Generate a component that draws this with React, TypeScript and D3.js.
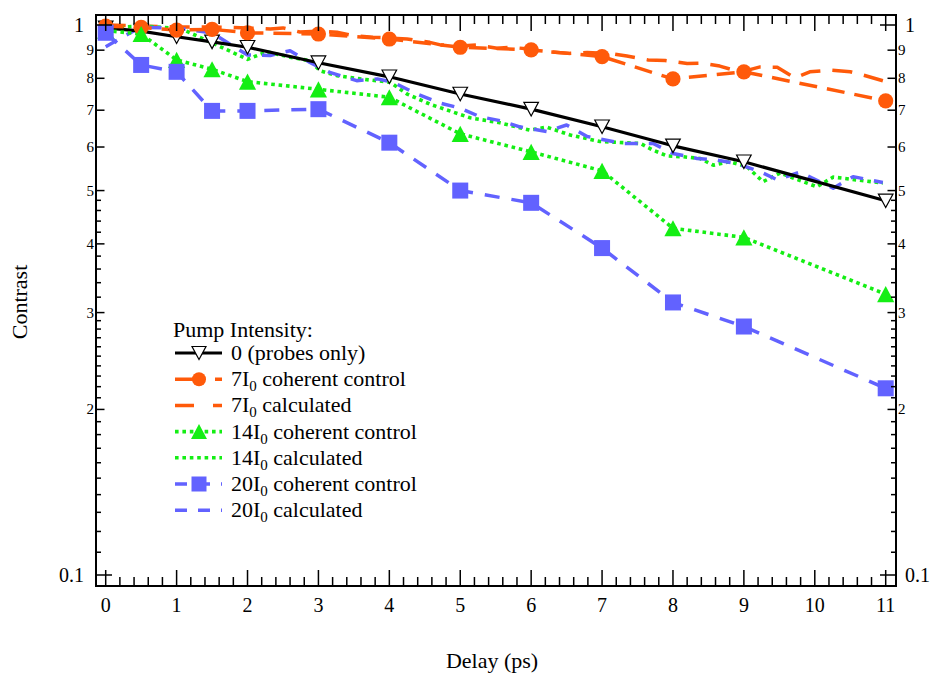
import React from "react";
import * as d3 from "d3";

const delays = [0, 0.5, 1, 1.5, 2, 3, 4, 5, 6, 7, 8, 9, 11];
const probesOnly = [0.988, 0.975, 0.952, 0.932, 0.911, 0.854, 0.805, 0.749, 0.703, 0.653, 0.603, 0.564, 0.479];
const control7 = [0.995, 0.99, 0.979, 0.982, 0.968, 0.963, 0.943, 0.911, 0.901, 0.876, 0.798, 0.822, 0.728];
const control14 = [0.977, 0.963, 0.864, 0.831, 0.789, 0.764, 0.739, 0.634, 0.588, 0.543, 0.427, 0.411, 0.324];
const control20 = [0.968, 0.846, 0.822, 0.698, 0.698, 0.703, 0.611, 0.5, 0.475, 0.393, 0.313, 0.283, 0.2185];

const calc7X = [0, 0.48, 0.99, 1.5, 2.0, 2.32, 2.5, 2.74, 3.02, 3.26, 3.49, 3.77, 4.01, 4.25, 4.57, 4.72, 5.0, 5.24, 5.52, 5.71, 5.98, 6.22, 6.55, 6.79, 7.11, 7.35, 7.65, 7.89, 8.2, 8.41, 8.66, 8.95, 9.23, 9.47, 9.72, 9.93, 10.22, 10.5, 10.68, 10.96];
const calc7Y = [1.0, 0.996, 0.992, 0.992, 0.988, 0.983, 0.988, 0.971, 0.975, 0.97, 0.956, 0.95, 0.947, 0.943, 0.93, 0.92, 0.916, 0.92, 0.907, 0.911, 0.904, 0.894, 0.888, 0.891, 0.888, 0.878, 0.864, 0.862, 0.851, 0.852, 0.842, 0.821, 0.839, 0.838, 0.801, 0.822, 0.828, 0.822, 0.811, 0.792];

const calc14X = [0, 0.53, 1.05, 1.47, 2.0, 2.27, 2.6, 2.88, 3.02, 3.26, 3.59, 4.01, 4.25, 4.57, 5.14, 5.56, 5.98, 6.22, 6.55, 6.97, 7.54, 7.72, 7.92, 8.14, 8.38, 8.57, 8.8, 9.04, 9.27, 9.51, 10.03, 10.26, 10.96];
const calc14Y = [0.99, 0.995, 0.986, 0.932, 0.866, 0.894, 0.874, 0.861, 0.826, 0.809, 0.798, 0.787, 0.749, 0.718, 0.678, 0.664, 0.644, 0.652, 0.631, 0.614, 0.609, 0.592, 0.578, 0.576, 0.572, 0.556, 0.564, 0.553, 0.519, 0.538, 0.508, 0.529, 0.516];

const calc20X = [0, 0.48, 1, 1.5, 2, 2.32, 2.6, 2.88, 3.16, 3.54, 3.83, 4.05, 4.39, 4.72, 5.0, 5.28, 5.56, 5.84, 6.22, 6.5, 6.79, 7.29, 7.72, 8.0, 8.34, 8.62, 8.9, 9.23, 9.47, 9.79, 10.26, 10.54, 10.96];
const calc20Y = [0.913, 0.99, 0.987, 0.967, 0.882, 0.88, 0.898, 0.855, 0.82, 0.792, 0.798, 0.787, 0.749, 0.721, 0.706, 0.681, 0.67, 0.653, 0.64, 0.658, 0.627, 0.609, 0.609, 0.584, 0.572, 0.568, 0.56, 0.541, 0.523, 0.54, 0.505, 0.53, 0.517];

const xTickLabels = ["0", "1", "2", "3", "4", "5", "6", "7", "8", "9", "10", "11"];
const yMajorLabels = ["0.1", "2", "3", "4", "5", "6", "7", "8", "9", "1"];

const BLACK = "#000000";
const ORANGE = "#ff5a0a";
const GREEN = "#14ee14";
const BLUE = "#6262ff";

const FONT = "Liberation Serif, DejaVu Serif, serif";

const L = 96, R = 896, T = 15, B = 586;

export default function App() {
  const x = d3.scaleLinear().domain([0, 11]).range([105.7, 885.7]);
  const y = d3.scaleLog().domain([0.1, 1]).range([575, 25]);
  const line = d3.line<[number, number]>().x((d) => x(d[0])).y((d) => y(d[1]));
  const zip = (xs: number[], ys: number[]) => xs.map((v, i) => [v, ys[i]] as [number, number]);

  const xTicks: { v: number; major: boolean }[] = [];
  for (let k = 0; k <= 55; k++) xTicks.push({ v: k / 5, major: k % 5 === 0 });

  const yTicks: { v: number; len: number }[] = [];
  for (let k = 10; k <= 30; k++) yTicks.push({ v: k / 100, len: k % 10 === 0 ? (k === 10 ? 16 : 8.5) : 5 });
  for (let k = 32; k <= 50; k += 2) yTicks.push({ v: k / 100, len: k % 10 === 0 ? 8.5 : 5 });
  for (let k = 6; k <= 10; k++) yTicks.push({ v: k / 10, len: k === 10 ? 16 : 8.5 });

  const triDown = (cx: number, cy: number, s: number) =>
    `M${cx - s},${cy - s * 0.93}L${cx + s},${cy - s * 0.93}L${cx},${cy + s * 0.93}Z`;
  const triUp = (cx: number, cy: number, s: number) =>
    `M${cx - s},${cy + s * 0.94}L${cx + s},${cy + s * 0.94}L${cx},${cy - s * 0.94}Z`;

  const dash7 = "18 10";
  const dash7c = "20 12";
  const dot14 = "3.6 3.8";
  const dash20 = "15 12";
  const dash20c = "13 11";

  const legendRows = [
    { label: "0 (probes only)", sub: false, pre: "", color: BLACK, dash: undefined, width: 3, marker: "tri" },
    { label: " coherent control", pre: "7I", sub: true, color: ORANGE, dash: "23 17", width: 3.5, marker: "circle" },
    { label: " calculated", pre: "7I", sub: true, color: ORANGE, dash: "19 19", width: 3.5, marker: "" },
    { label: " coherent control", pre: "14I", sub: true, color: GREEN, dash: dot14, width: 3.6, marker: "triup" },
    { label: " calculated", pre: "14I", sub: true, color: GREEN, dash: dot14, width: 3.6, marker: "" },
    { label: " coherent control", pre: "20I", sub: true, color: BLUE, dash: "12 11", width: 3.5, marker: "square" },
    { label: " calculated", pre: "20I", sub: true, color: BLUE, dash: "12 11", width: 3.5, marker: "" },
  ];

  const cp = zip(delays, probesOnly);
  const c7 = zip(delays, control7);
  const c14 = zip(delays, control14);
  const c20 = zip(delays, control20);

  return (
    <svg
      width={933}
      height={679}
      style={{ position: "absolute", left: 0, top: 0, background: "#fff", fontFamily: FONT }}
    >
      <defs>
        <clipPath id="plotclip">
          <rect x={L} y={T} width={R - L} height={B - T} />
        </clipPath>
      </defs>
      <rect x={0} y={0} width={933} height={679} fill="#fff" />

      <g clipPath="url(#plotclip)" fill="none" strokeLinejoin="round">
        <path d={line(zip(calc7X, calc7Y)) || ""} stroke={ORANGE} strokeWidth={3.5} strokeDasharray={dash7c} />
        <path d={line(zip(calc14X, calc14Y)) || ""} stroke={GREEN} strokeWidth={3.6} strokeDasharray={dot14} />
        <path d={line(zip(calc20X, calc20Y)) || ""} stroke={BLUE} strokeWidth={3.5} strokeDasharray={dash20c} />

        <path d={line(cp) || ""} stroke={BLACK} strokeWidth={3.2} />
        <path d={line(c7) || ""} stroke={ORANGE} strokeWidth={3.5} strokeDasharray={dash7} />
        <path d={line(c14) || ""} stroke={GREEN} strokeWidth={3.6} strokeDasharray={dot14} />
        <path d={line(c20) || ""} stroke={BLUE} strokeWidth={3.5} strokeDasharray={dash20} />
      </g>

      <g clipPath="url(#plotclip)">
        {cp.map((d, i) => (
          <path key={"p" + i} d={triDown(x(d[0]), y(d[1]), 7.3)} fill="#fff" stroke="#000" strokeWidth={1.2} />
        ))}
        {c7.map((d, i) => (
          <circle key={"o" + i} cx={x(d[0])} cy={y(d[1])} r={7.6} fill={ORANGE} />
        ))}
        {c14.map((d, i) => (
          <path key={"g" + i} d={triUp(x(d[0]), y(d[1]), 8.6)} fill={GREEN} />
        ))}
        {c20.map((d, i) => (
          <rect key={"b" + i} x={x(d[0]) - 8} y={y(d[1]) - 8} width={16} height={16} fill={BLUE} />
        ))}
      </g>

      <rect x={L} y={T} width={R - L} height={B - T} fill="none" stroke="#000" strokeWidth={2} />

      <g stroke="#000" strokeWidth={1.5}>
        {xTicks.map((t, i) => {
          const px = x(t.v);
          const len = t.major ? 16 : 9;
          return (
            <g key={"xt" + i}>
              <line x1={px} x2={px} y1={B} y2={B - len} />
              <line x1={px} x2={px} y1={T} y2={T + len} />
            </g>
          );
        })}
        {yTicks.map((t, i) => {
          const py = y(t.v);
          return (
            <g key={"yt" + i}>
              <line x1={L} x2={L + t.len} y1={py} y2={py} />
              <line x1={R} x2={R - t.len} y1={py} y2={py} />
            </g>
          );
        })}
      </g>

      <g fontSize={20} textAnchor="middle" fill="#000">
        {xTickLabels.map((lab, i) => (
          <text key={"xl" + i} x={x(i)} y={612}>
            {lab}
          </text>
        ))}
      </g>

      <g fill="#000">
        {yMajorLabels.map((lab, i) => {
          const v = (i + 1) / 10;
          const big = i === 9 || i === 0;
          const py = y(v);
          return (
            <g key={"yl" + i}>
              <text x={big ? 84 : 94} y={py + (big ? 7 : 5)} fontSize={big ? 20 : 15} textAnchor="end">
                {lab}
              </text>
              <text x={big ? 905 : 898} y={py + (big ? 7 : 5)} fontSize={big ? 20 : 15} textAnchor="start">
                {lab}
              </text>
            </g>
          );
        })}
      </g>

      <text x={492} y={668} fontSize={22} textAnchor="middle" fill="#000">
        Delay (ps)
      </text>
      <text transform="translate(27,302) rotate(-90)" fontSize={22} textAnchor="middle" fill="#000">
        Contrast
      </text>

      <g fill="#000" fontSize={22}>
        <text x={173} y={337}>Pump Intensity:</text>
        {legendRows.map((r, i) => {
          const cy = 353 + i * 26.2;
          const mx = 199;
          return (
            <g key={"lg" + i}>
              <line x1={175} x2={222} y1={cy} y2={cy} stroke={r.color} strokeWidth={r.width} strokeDasharray={r.dash} />
              {r.marker === "tri" && <path d={triDown(mx, cy, 7)} fill="#fff" stroke="#000" strokeWidth={1.2} />}
              {r.marker === "circle" && <circle cx={mx} cy={cy} r={7} fill={ORANGE} />}
              {r.marker === "triup" && <path d={triUp(mx, cy, 8)} fill={GREEN} />}
              {r.marker === "square" && <rect x={mx - 7.5} y={cy - 7.5} width={15} height={15} fill={BLUE} />}
              <text x={231} y={cy + 7}>
                {r.sub ? (
                  <>
                    {r.pre}
                    <tspan fontSize={15} dy={5}>0</tspan>
                    <tspan dy={-5}>{r.label}</tspan>
                  </>
                ) : (
                  r.label
                )}
              </text>
            </g>
          );
        })}
      </g>
    </svg>
  );
}
